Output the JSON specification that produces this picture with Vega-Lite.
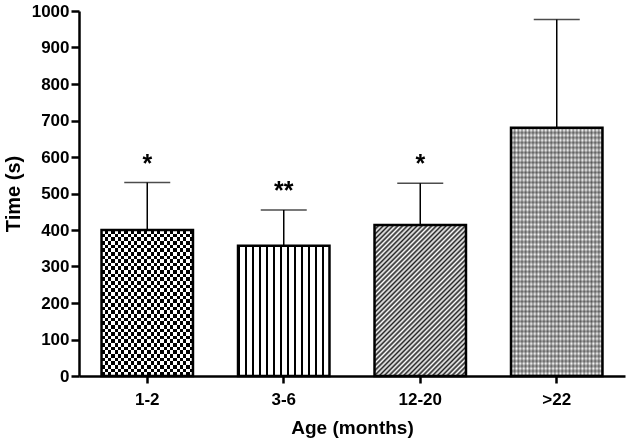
{
  "$schema": "https://vega.github.io/schema/vega-lite/v6.json",
  "width": 546,
  "height": 365,
  "autosize": "none",
  "padding": {"left": 79, "top": 11, "right": 5, "bottom": 71},
  "background": "white",
  "config": {
    "view": {"stroke": null},
    "font": "Liberation Sans"
  },
  "data": {"values": [
    {"age": "1-2", "mean": 400, "upper": 530, "sig": "*"},
    {"age": "3-6", "mean": 357, "upper": 455, "sig": "**"},
    {"age": "12-20", "mean": 414, "upper": 528, "sig": "*"},
    {"age": ">22", "mean": 680, "upper": 977, "sig": ""}
  ]},
  "encoding": {
    "x": {"field": "age", "type": "nominal", "sort": ["1-2", "3-6", "12-20", ">22"],
      "scale": {"paddingInner": 0.33, "paddingOuter": 0.165}, "title": "Age (months)",
      "axis": {"domainColor": "black", "domainWidth": 2.5, "tickColor": "black", "tickWidth": 2.5, "tickSize": 7,
        "labelFont": "Liberation Sans", "labelFontWeight": "bold", "labelFontSize": 17, "labelColor": "black", "labelAngle": 0, "labelPadding": 8,
        "titleFont": "Liberation Sans", "titleFontWeight": "bold", "titleFontSize": 19, "titleColor": "black", "titlePadding": 11, "grid": false}},
    "y": {"field": "mean", "type": "quantitative", "scale": {"domain": [0, 1000], "nice": false}, "title": "Time (s)",
      "axis": {"values": [0, 100, 200, 300, 400, 500, 600, 700, 800, 900, 1000], "format": "d", "labelOverlap": false,
        "domainColor": "black", "domainWidth": 2.5, "tickColor": "black", "tickWidth": 2.5, "tickSize": 8,
        "labelFont": "Liberation Sans", "labelFontWeight": "bold", "labelFontSize": 17, "labelColor": "black", "labelPadding": 2,
        "titleFont": "Liberation Sans", "titleFontWeight": "bold", "titleFontSize": 20, "titleColor": "black", "titlePadding": 8, "grid": false}}
  },
  "layer": [
    {
      "transform": [{"filter": "datum.age == '1-2'"}],
      "mark": {"type": "bar", "fill": {"gradient": "linear", "x1": 0, "y1": 0, "x2": 1, "y2": 0, "stops": [
        {"offset": 0, "color": "black"}, {"offset": 0.0357, "color": "black"}, {"offset": 0.0357, "color": "white"}, {"offset": 0.0714, "color": "white"},
        {"offset": 0.0714, "color": "black"}, {"offset": 0.1071, "color": "black"}, {"offset": 0.1071, "color": "white"}, {"offset": 0.1429, "color": "white"},
        {"offset": 0.1429, "color": "black"}, {"offset": 0.1786, "color": "black"}, {"offset": 0.1786, "color": "white"}, {"offset": 0.2143, "color": "white"},
        {"offset": 0.2143, "color": "black"}, {"offset": 0.25, "color": "black"}, {"offset": 0.25, "color": "white"}, {"offset": 0.2857, "color": "white"},
        {"offset": 0.2857, "color": "black"}, {"offset": 0.3214, "color": "black"}, {"offset": 0.3214, "color": "white"}, {"offset": 0.3571, "color": "white"},
        {"offset": 0.3571, "color": "black"}, {"offset": 0.3929, "color": "black"}, {"offset": 0.3929, "color": "white"}, {"offset": 0.4286, "color": "white"},
        {"offset": 0.4286, "color": "black"}, {"offset": 0.4643, "color": "black"}, {"offset": 0.4643, "color": "white"}, {"offset": 0.5, "color": "white"},
        {"offset": 0.5, "color": "black"}, {"offset": 0.5357, "color": "black"}, {"offset": 0.5357, "color": "white"}, {"offset": 0.5714, "color": "white"},
        {"offset": 0.5714, "color": "black"}, {"offset": 0.6071, "color": "black"}, {"offset": 0.6071, "color": "white"}, {"offset": 0.6429, "color": "white"},
        {"offset": 0.6429, "color": "black"}, {"offset": 0.6786, "color": "black"}, {"offset": 0.6786, "color": "white"}, {"offset": 0.7143, "color": "white"},
        {"offset": 0.7143, "color": "black"}, {"offset": 0.75, "color": "black"}, {"offset": 0.75, "color": "white"}, {"offset": 0.7857, "color": "white"},
        {"offset": 0.7857, "color": "black"}, {"offset": 0.8214, "color": "black"}, {"offset": 0.8214, "color": "white"}, {"offset": 0.8571, "color": "white"},
        {"offset": 0.8571, "color": "black"}, {"offset": 0.8929, "color": "black"}, {"offset": 0.8929, "color": "white"}, {"offset": 0.9286, "color": "white"},
        {"offset": 0.9286, "color": "black"}, {"offset": 0.9643, "color": "black"}, {"offset": 0.9643, "color": "white"}, {"offset": 1, "color": "white"}
      ]}}
    },
    {
      "transform": [{"filter": "datum.age == '1-2'"}],
      "mark": {"type": "bar", "blend": "difference", "fill": {"gradient": "linear", "x1": 0, "y1": 0, "x2": 0, "y2": 1, "stops": [
        {"offset": 0, "color": "#fff"}, {"offset": 0.025, "color": "#fff"}, {"offset": 0.025, "color": "rgba(255,255,255,0)"}, {"offset": 0.05, "color": "rgba(255,255,255,0)"},
        {"offset": 0.05, "color": "#fff"}, {"offset": 0.075, "color": "#fff"}, {"offset": 0.075, "color": "rgba(255,255,255,0)"}, {"offset": 0.1, "color": "rgba(255,255,255,0)"},
        {"offset": 0.1, "color": "#fff"}, {"offset": 0.125, "color": "#fff"}, {"offset": 0.125, "color": "rgba(255,255,255,0)"}, {"offset": 0.15, "color": "rgba(255,255,255,0)"},
        {"offset": 0.15, "color": "#fff"}, {"offset": 0.175, "color": "#fff"}, {"offset": 0.175, "color": "rgba(255,255,255,0)"}, {"offset": 0.2, "color": "rgba(255,255,255,0)"},
        {"offset": 0.2, "color": "#fff"}, {"offset": 0.225, "color": "#fff"}, {"offset": 0.225, "color": "rgba(255,255,255,0)"}, {"offset": 0.25, "color": "rgba(255,255,255,0)"},
        {"offset": 0.25, "color": "#fff"}, {"offset": 0.275, "color": "#fff"}, {"offset": 0.275, "color": "rgba(255,255,255,0)"}, {"offset": 0.3, "color": "rgba(255,255,255,0)"},
        {"offset": 0.3, "color": "#fff"}, {"offset": 0.325, "color": "#fff"}, {"offset": 0.325, "color": "rgba(255,255,255,0)"}, {"offset": 0.35, "color": "rgba(255,255,255,0)"},
        {"offset": 0.35, "color": "#fff"}, {"offset": 0.375, "color": "#fff"}, {"offset": 0.375, "color": "rgba(255,255,255,0)"}, {"offset": 0.4, "color": "rgba(255,255,255,0)"},
        {"offset": 0.4, "color": "#fff"}, {"offset": 0.425, "color": "#fff"}, {"offset": 0.425, "color": "rgba(255,255,255,0)"}, {"offset": 0.45, "color": "rgba(255,255,255,0)"},
        {"offset": 0.45, "color": "#fff"}, {"offset": 0.475, "color": "#fff"}, {"offset": 0.475, "color": "rgba(255,255,255,0)"}, {"offset": 0.5, "color": "rgba(255,255,255,0)"},
        {"offset": 0.5, "color": "#fff"}, {"offset": 0.525, "color": "#fff"}, {"offset": 0.525, "color": "rgba(255,255,255,0)"}, {"offset": 0.55, "color": "rgba(255,255,255,0)"},
        {"offset": 0.55, "color": "#fff"}, {"offset": 0.575, "color": "#fff"}, {"offset": 0.575, "color": "rgba(255,255,255,0)"}, {"offset": 0.6, "color": "rgba(255,255,255,0)"},
        {"offset": 0.6, "color": "#fff"}, {"offset": 0.625, "color": "#fff"}, {"offset": 0.625, "color": "rgba(255,255,255,0)"}, {"offset": 0.65, "color": "rgba(255,255,255,0)"},
        {"offset": 0.65, "color": "#fff"}, {"offset": 0.675, "color": "#fff"}, {"offset": 0.675, "color": "rgba(255,255,255,0)"}, {"offset": 0.7, "color": "rgba(255,255,255,0)"},
        {"offset": 0.7, "color": "#fff"}, {"offset": 0.725, "color": "#fff"}, {"offset": 0.725, "color": "rgba(255,255,255,0)"}, {"offset": 0.75, "color": "rgba(255,255,255,0)"},
        {"offset": 0.75, "color": "#fff"}, {"offset": 0.775, "color": "#fff"}, {"offset": 0.775, "color": "rgba(255,255,255,0)"}, {"offset": 0.8, "color": "rgba(255,255,255,0)"},
        {"offset": 0.8, "color": "#fff"}, {"offset": 0.825, "color": "#fff"}, {"offset": 0.825, "color": "rgba(255,255,255,0)"}, {"offset": 0.85, "color": "rgba(255,255,255,0)"},
        {"offset": 0.85, "color": "#fff"}, {"offset": 0.875, "color": "#fff"}, {"offset": 0.875, "color": "rgba(255,255,255,0)"}, {"offset": 0.9, "color": "rgba(255,255,255,0)"},
        {"offset": 0.9, "color": "#fff"}, {"offset": 0.925, "color": "#fff"}, {"offset": 0.925, "color": "rgba(255,255,255,0)"}, {"offset": 0.95, "color": "rgba(255,255,255,0)"},
        {"offset": 0.95, "color": "#fff"}, {"offset": 0.975, "color": "#fff"}, {"offset": 0.975, "color": "rgba(255,255,255,0)"}, {"offset": 1, "color": "rgba(255,255,255,0)"}
      ]}}
    },
    {
      "transform": [{"filter": "datum.age == '3-6'"}],
      "mark": {"type": "bar", "fill": {"gradient": "linear", "x1": 0, "y1": 0, "x2": 1, "y2": 0, "stops": [
        {"offset": 0, "color": "black"}, {"offset": 0.02, "color": "black"}, {"offset": 0.02, "color": "white"}, {"offset": 0.0769, "color": "white"},
        {"offset": 0.0769, "color": "black"}, {"offset": 0.0969, "color": "black"}, {"offset": 0.0969, "color": "white"}, {"offset": 0.1538, "color": "white"},
        {"offset": 0.1538, "color": "black"}, {"offset": 0.1738, "color": "black"}, {"offset": 0.1738, "color": "white"}, {"offset": 0.2308, "color": "white"},
        {"offset": 0.2308, "color": "black"}, {"offset": 0.2508, "color": "black"}, {"offset": 0.2508, "color": "white"}, {"offset": 0.3077, "color": "white"},
        {"offset": 0.3077, "color": "black"}, {"offset": 0.3277, "color": "black"}, {"offset": 0.3277, "color": "white"}, {"offset": 0.3846, "color": "white"},
        {"offset": 0.3846, "color": "black"}, {"offset": 0.4046, "color": "black"}, {"offset": 0.4046, "color": "white"}, {"offset": 0.4615, "color": "white"},
        {"offset": 0.4615, "color": "black"}, {"offset": 0.4815, "color": "black"}, {"offset": 0.4815, "color": "white"}, {"offset": 0.5385, "color": "white"},
        {"offset": 0.5385, "color": "black"}, {"offset": 0.5585, "color": "black"}, {"offset": 0.5585, "color": "white"}, {"offset": 0.6154, "color": "white"},
        {"offset": 0.6154, "color": "black"}, {"offset": 0.6354, "color": "black"}, {"offset": 0.6354, "color": "white"}, {"offset": 0.6923, "color": "white"},
        {"offset": 0.6923, "color": "black"}, {"offset": 0.7123, "color": "black"}, {"offset": 0.7123, "color": "white"}, {"offset": 0.7692, "color": "white"},
        {"offset": 0.7692, "color": "black"}, {"offset": 0.7892, "color": "black"}, {"offset": 0.7892, "color": "white"}, {"offset": 0.8462, "color": "white"},
        {"offset": 0.8462, "color": "black"}, {"offset": 0.8662, "color": "black"}, {"offset": 0.8662, "color": "white"}, {"offset": 0.9231, "color": "white"},
        {"offset": 0.9231, "color": "black"}, {"offset": 0.9431, "color": "black"}, {"offset": 0.9431, "color": "white"}, {"offset": 1, "color": "white"}
      ]}}
    },
    {
      "transform": [{"filter": "datum.age == '12-20'"}],
      "mark": {"type": "bar", "fill": {"gradient": "linear", "x1": 0, "y1": 0, "x2": 0.715, "y2": 1.174, "stops": [
        {"offset": 0, "color": "#222"}, {"offset": 0.01, "color": "#fff"}, {"offset": 0.02, "color": "#222"}, {"offset": 0.03, "color": "#fff"},
        {"offset": 0.04, "color": "#222"}, {"offset": 0.05, "color": "#fff"}, {"offset": 0.06, "color": "#222"}, {"offset": 0.07, "color": "#fff"},
        {"offset": 0.08, "color": "#222"}, {"offset": 0.09, "color": "#fff"}, {"offset": 0.1, "color": "#222"}, {"offset": 0.11, "color": "#fff"},
        {"offset": 0.12, "color": "#222"}, {"offset": 0.13, "color": "#fff"}, {"offset": 0.14, "color": "#222"}, {"offset": 0.15, "color": "#fff"},
        {"offset": 0.16, "color": "#222"}, {"offset": 0.17, "color": "#fff"}, {"offset": 0.18, "color": "#222"}, {"offset": 0.19, "color": "#fff"},
        {"offset": 0.2, "color": "#222"}, {"offset": 0.21, "color": "#fff"}, {"offset": 0.22, "color": "#222"}, {"offset": 0.23, "color": "#fff"},
        {"offset": 0.24, "color": "#222"}, {"offset": 0.25, "color": "#fff"}, {"offset": 0.26, "color": "#222"}, {"offset": 0.27, "color": "#fff"},
        {"offset": 0.28, "color": "#222"}, {"offset": 0.29, "color": "#fff"}, {"offset": 0.3, "color": "#222"}, {"offset": 0.31, "color": "#fff"},
        {"offset": 0.32, "color": "#222"}, {"offset": 0.33, "color": "#fff"}, {"offset": 0.34, "color": "#222"}, {"offset": 0.35, "color": "#fff"},
        {"offset": 0.36, "color": "#222"}, {"offset": 0.37, "color": "#fff"}, {"offset": 0.38, "color": "#222"}, {"offset": 0.39, "color": "#fff"},
        {"offset": 0.4, "color": "#222"}, {"offset": 0.41, "color": "#fff"}, {"offset": 0.42, "color": "#222"}, {"offset": 0.43, "color": "#fff"},
        {"offset": 0.44, "color": "#222"}, {"offset": 0.45, "color": "#fff"}, {"offset": 0.46, "color": "#222"}, {"offset": 0.47, "color": "#fff"},
        {"offset": 0.48, "color": "#222"}, {"offset": 0.49, "color": "#fff"}, {"offset": 0.5, "color": "#222"}, {"offset": 0.51, "color": "#fff"},
        {"offset": 0.52, "color": "#222"}, {"offset": 0.53, "color": "#fff"}, {"offset": 0.54, "color": "#222"}, {"offset": 0.55, "color": "#fff"},
        {"offset": 0.56, "color": "#222"}, {"offset": 0.57, "color": "#fff"}, {"offset": 0.58, "color": "#222"}, {"offset": 0.59, "color": "#fff"},
        {"offset": 0.6, "color": "#222"}, {"offset": 0.61, "color": "#fff"}, {"offset": 0.62, "color": "#222"}, {"offset": 0.63, "color": "#fff"},
        {"offset": 0.64, "color": "#222"}, {"offset": 0.65, "color": "#fff"}, {"offset": 0.66, "color": "#222"}, {"offset": 0.67, "color": "#fff"},
        {"offset": 0.68, "color": "#222"}, {"offset": 0.69, "color": "#fff"}, {"offset": 0.7, "color": "#222"}, {"offset": 0.71, "color": "#fff"},
        {"offset": 0.72, "color": "#222"}, {"offset": 0.73, "color": "#fff"}, {"offset": 0.74, "color": "#222"}, {"offset": 0.75, "color": "#fff"},
        {"offset": 0.76, "color": "#222"}, {"offset": 0.77, "color": "#fff"}, {"offset": 0.78, "color": "#222"}, {"offset": 0.79, "color": "#fff"},
        {"offset": 0.8, "color": "#222"}, {"offset": 0.81, "color": "#fff"}, {"offset": 0.82, "color": "#222"}, {"offset": 0.83, "color": "#fff"},
        {"offset": 0.84, "color": "#222"}, {"offset": 0.85, "color": "#fff"}, {"offset": 0.86, "color": "#222"}, {"offset": 0.87, "color": "#fff"},
        {"offset": 0.88, "color": "#222"}, {"offset": 0.89, "color": "#fff"}, {"offset": 0.9, "color": "#222"}, {"offset": 0.91, "color": "#fff"},
        {"offset": 0.92, "color": "#222"}, {"offset": 0.93, "color": "#fff"}, {"offset": 0.94, "color": "#222"}, {"offset": 0.95, "color": "#fff"},
        {"offset": 0.96, "color": "#222"}, {"offset": 0.97, "color": "#fff"}, {"offset": 0.98, "color": "#222"}, {"offset": 0.99, "color": "#fff"},
        {"offset": 1, "color": "#222"}
      ]}}
    },
    {
      "transform": [{"filter": "datum.age == '>22'"}],
      "mark": {"type": "bar", "fill": {"gradient": "linear", "x1": 0, "y1": 0, "x2": 1, "y2": 0, "stops": [
        {"offset": 0, "color": "#909090"}, {"offset": 0.02, "color": "#fff"}, {"offset": 0.04, "color": "#909090"}, {"offset": 0.06, "color": "#fff"},
        {"offset": 0.08, "color": "#909090"}, {"offset": 0.1, "color": "#fff"}, {"offset": 0.12, "color": "#909090"}, {"offset": 0.14, "color": "#fff"},
        {"offset": 0.16, "color": "#909090"}, {"offset": 0.18, "color": "#fff"}, {"offset": 0.2, "color": "#909090"}, {"offset": 0.22, "color": "#fff"},
        {"offset": 0.24, "color": "#909090"}, {"offset": 0.26, "color": "#fff"}, {"offset": 0.28, "color": "#909090"}, {"offset": 0.3, "color": "#fff"},
        {"offset": 0.32, "color": "#909090"}, {"offset": 0.34, "color": "#fff"}, {"offset": 0.36, "color": "#909090"}, {"offset": 0.38, "color": "#fff"},
        {"offset": 0.4, "color": "#909090"}, {"offset": 0.42, "color": "#fff"}, {"offset": 0.44, "color": "#909090"}, {"offset": 0.46, "color": "#fff"},
        {"offset": 0.48, "color": "#909090"}, {"offset": 0.5, "color": "#fff"}, {"offset": 0.52, "color": "#909090"}, {"offset": 0.54, "color": "#fff"},
        {"offset": 0.56, "color": "#909090"}, {"offset": 0.58, "color": "#fff"}, {"offset": 0.6, "color": "#909090"}, {"offset": 0.62, "color": "#fff"},
        {"offset": 0.64, "color": "#909090"}, {"offset": 0.66, "color": "#fff"}, {"offset": 0.68, "color": "#909090"}, {"offset": 0.7, "color": "#fff"},
        {"offset": 0.72, "color": "#909090"}, {"offset": 0.74, "color": "#fff"}, {"offset": 0.76, "color": "#909090"}, {"offset": 0.78, "color": "#fff"},
        {"offset": 0.8, "color": "#909090"}, {"offset": 0.82, "color": "#fff"}, {"offset": 0.84, "color": "#909090"}, {"offset": 0.86, "color": "#fff"},
        {"offset": 0.88, "color": "#909090"}, {"offset": 0.9, "color": "#fff"}, {"offset": 0.92, "color": "#909090"}, {"offset": 0.94, "color": "#fff"},
        {"offset": 0.96, "color": "#909090"}, {"offset": 0.98, "color": "#fff"}, {"offset": 1, "color": "#909090"}
      ]}}
    },
    {
      "transform": [{"filter": "datum.age == '>22'"}],
      "mark": {"type": "bar", "fill": {"gradient": "linear", "x1": 0, "y1": 0, "x2": 0, "y2": 1, "stops": [
        {"offset": 0, "color": "rgba(0,0,0,0.4)"}, {"offset": 0.01, "color": "rgba(0,0,0,0)"}, {"offset": 0.02, "color": "rgba(0,0,0,0.4)"}, {"offset": 0.03, "color": "rgba(0,0,0,0)"},
        {"offset": 0.04, "color": "rgba(0,0,0,0.4)"}, {"offset": 0.05, "color": "rgba(0,0,0,0)"}, {"offset": 0.06, "color": "rgba(0,0,0,0.4)"}, {"offset": 0.07, "color": "rgba(0,0,0,0)"},
        {"offset": 0.08, "color": "rgba(0,0,0,0.4)"}, {"offset": 0.09, "color": "rgba(0,0,0,0)"}, {"offset": 0.1, "color": "rgba(0,0,0,0.4)"}, {"offset": 0.11, "color": "rgba(0,0,0,0)"},
        {"offset": 0.12, "color": "rgba(0,0,0,0.4)"}, {"offset": 0.13, "color": "rgba(0,0,0,0)"}, {"offset": 0.14, "color": "rgba(0,0,0,0.4)"}, {"offset": 0.15, "color": "rgba(0,0,0,0)"},
        {"offset": 0.16, "color": "rgba(0,0,0,0.4)"}, {"offset": 0.17, "color": "rgba(0,0,0,0)"}, {"offset": 0.18, "color": "rgba(0,0,0,0.4)"}, {"offset": 0.19, "color": "rgba(0,0,0,0)"},
        {"offset": 0.2, "color": "rgba(0,0,0,0.4)"}, {"offset": 0.21, "color": "rgba(0,0,0,0)"}, {"offset": 0.22, "color": "rgba(0,0,0,0.4)"}, {"offset": 0.23, "color": "rgba(0,0,0,0)"},
        {"offset": 0.24, "color": "rgba(0,0,0,0.4)"}, {"offset": 0.25, "color": "rgba(0,0,0,0)"}, {"offset": 0.26, "color": "rgba(0,0,0,0.4)"}, {"offset": 0.27, "color": "rgba(0,0,0,0)"},
        {"offset": 0.28, "color": "rgba(0,0,0,0.4)"}, {"offset": 0.29, "color": "rgba(0,0,0,0)"}, {"offset": 0.3, "color": "rgba(0,0,0,0.4)"}, {"offset": 0.31, "color": "rgba(0,0,0,0)"},
        {"offset": 0.32, "color": "rgba(0,0,0,0.4)"}, {"offset": 0.33, "color": "rgba(0,0,0,0)"}, {"offset": 0.34, "color": "rgba(0,0,0,0.4)"}, {"offset": 0.35, "color": "rgba(0,0,0,0)"},
        {"offset": 0.36, "color": "rgba(0,0,0,0.4)"}, {"offset": 0.37, "color": "rgba(0,0,0,0)"}, {"offset": 0.38, "color": "rgba(0,0,0,0.4)"}, {"offset": 0.39, "color": "rgba(0,0,0,0)"},
        {"offset": 0.4, "color": "rgba(0,0,0,0.4)"}, {"offset": 0.41, "color": "rgba(0,0,0,0)"}, {"offset": 0.42, "color": "rgba(0,0,0,0.4)"}, {"offset": 0.43, "color": "rgba(0,0,0,0)"},
        {"offset": 0.44, "color": "rgba(0,0,0,0.4)"}, {"offset": 0.45, "color": "rgba(0,0,0,0)"}, {"offset": 0.46, "color": "rgba(0,0,0,0.4)"}, {"offset": 0.47, "color": "rgba(0,0,0,0)"},
        {"offset": 0.48, "color": "rgba(0,0,0,0.4)"}, {"offset": 0.49, "color": "rgba(0,0,0,0)"}, {"offset": 0.5, "color": "rgba(0,0,0,0.4)"}, {"offset": 0.51, "color": "rgba(0,0,0,0)"},
        {"offset": 0.52, "color": "rgba(0,0,0,0.4)"}, {"offset": 0.53, "color": "rgba(0,0,0,0)"}, {"offset": 0.54, "color": "rgba(0,0,0,0.4)"}, {"offset": 0.55, "color": "rgba(0,0,0,0)"},
        {"offset": 0.56, "color": "rgba(0,0,0,0.4)"}, {"offset": 0.57, "color": "rgba(0,0,0,0)"}, {"offset": 0.58, "color": "rgba(0,0,0,0.4)"}, {"offset": 0.59, "color": "rgba(0,0,0,0)"},
        {"offset": 0.6, "color": "rgba(0,0,0,0.4)"}, {"offset": 0.61, "color": "rgba(0,0,0,0)"}, {"offset": 0.62, "color": "rgba(0,0,0,0.4)"}, {"offset": 0.63, "color": "rgba(0,0,0,0)"},
        {"offset": 0.64, "color": "rgba(0,0,0,0.4)"}, {"offset": 0.65, "color": "rgba(0,0,0,0)"}, {"offset": 0.66, "color": "rgba(0,0,0,0.4)"}, {"offset": 0.67, "color": "rgba(0,0,0,0)"},
        {"offset": 0.68, "color": "rgba(0,0,0,0.4)"}, {"offset": 0.69, "color": "rgba(0,0,0,0)"}, {"offset": 0.7, "color": "rgba(0,0,0,0.4)"}, {"offset": 0.71, "color": "rgba(0,0,0,0)"},
        {"offset": 0.72, "color": "rgba(0,0,0,0.4)"}, {"offset": 0.73, "color": "rgba(0,0,0,0)"}, {"offset": 0.74, "color": "rgba(0,0,0,0.4)"}, {"offset": 0.75, "color": "rgba(0,0,0,0)"},
        {"offset": 0.76, "color": "rgba(0,0,0,0.4)"}, {"offset": 0.77, "color": "rgba(0,0,0,0)"}, {"offset": 0.78, "color": "rgba(0,0,0,0.4)"}, {"offset": 0.79, "color": "rgba(0,0,0,0)"},
        {"offset": 0.8, "color": "rgba(0,0,0,0.4)"}, {"offset": 0.81, "color": "rgba(0,0,0,0)"}, {"offset": 0.82, "color": "rgba(0,0,0,0.4)"}, {"offset": 0.83, "color": "rgba(0,0,0,0)"},
        {"offset": 0.84, "color": "rgba(0,0,0,0.4)"}, {"offset": 0.85, "color": "rgba(0,0,0,0)"}, {"offset": 0.86, "color": "rgba(0,0,0,0.4)"}, {"offset": 0.87, "color": "rgba(0,0,0,0)"},
        {"offset": 0.88, "color": "rgba(0,0,0,0.4)"}, {"offset": 0.89, "color": "rgba(0,0,0,0)"}, {"offset": 0.9, "color": "rgba(0,0,0,0.4)"}, {"offset": 0.91, "color": "rgba(0,0,0,0)"},
        {"offset": 0.92, "color": "rgba(0,0,0,0.4)"}, {"offset": 0.93, "color": "rgba(0,0,0,0)"}, {"offset": 0.94, "color": "rgba(0,0,0,0.4)"}, {"offset": 0.95, "color": "rgba(0,0,0,0)"},
        {"offset": 0.96, "color": "rgba(0,0,0,0.4)"}, {"offset": 0.97, "color": "rgba(0,0,0,0)"}, {"offset": 0.98, "color": "rgba(0,0,0,0.4)"}, {"offset": 0.99, "color": "rgba(0,0,0,0)"},
        {"offset": 1, "color": "rgba(0,0,0,0.4)"}
      ]}}
    },
    {
      "mark": {"type": "bar", "fill": "white", "fillOpacity": 0, "stroke": "black", "strokeWidth": 2.5}
    },
    {
      "mark": {"type": "rule", "color": "black", "strokeWidth": 1.5},
      "encoding": {"y2": {"field": "upper"}}
    },
    {
      "mark": {"type": "tick", "color": "black", "thickness": 1.5, "size": 46, "orient": "horizontal"},
      "encoding": {"y": {"field": "upper", "type": "quantitative"}}
    },
    {
      "mark": {"type": "text", "font": "Liberation Sans", "fontWeight": "bold", "fontSize": 25, "color": "black", "baseline": "alphabetic", "dy": -11},
      "encoding": {"y": {"field": "upper", "type": "quantitative"}, "text": {"field": "sig"}}
    }
  ]
}
